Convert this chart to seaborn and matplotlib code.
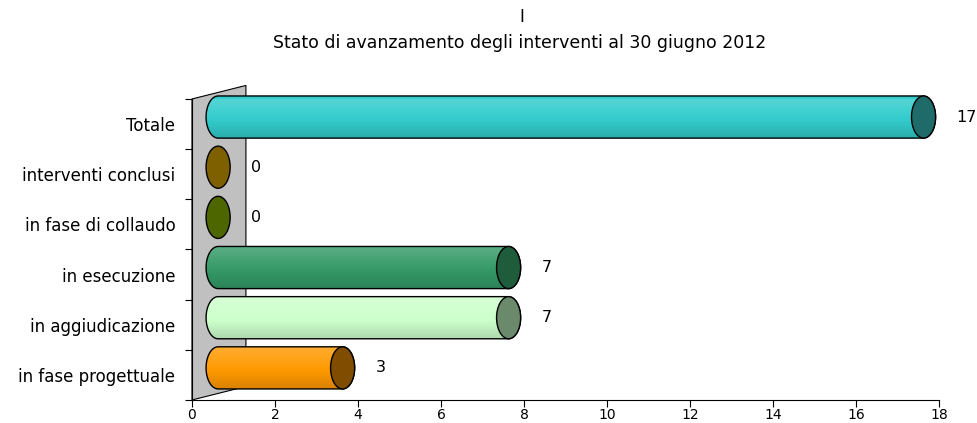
import numpy as np
import pandas as pd
import matplotlib.pyplot as plt
import seaborn as sns
from matplotlib.patches import Ellipse, Polygon
from matplotlib.colors import to_rgb

categories = ["Totale", "interventi conclusi", "in fase di collaudo",
              "in esecuzione", "in aggiudicazione", "in fase progettuale"]
values = [17, 0, 0, 7, 7, 3]
body_colors = ["#33CCCC", "#7F6000", "#4D6600", "#339966", "#CCFFCC", "#FF9900"]
cap_colors = ["#1E6B69", "#7F6000", "#4D6600", "#1E5C3C", "#6B8A6B", "#7F4C00"]
x_ticks = [0, 2, 4, 6, 8, 10, 12, 14, 16, 18]

df = pd.DataFrame({"stato": categories, "valore": values})

sns.set_theme(style="white")
plt.rcParams["font.family"] = ["DejaVu Sans"]
plt.rcParams["text.color"] = "black"
plt.rcParams["xtick.labelcolor"] = "black"
plt.rcParams["ytick.labelcolor"] = "black"

fig, ax = plt.subplots(figsize=(9.77, 4.23), dpi=100)
fig.subplots_adjust(left=0.1965, right=0.961, bottom=0.0544, top=0.766)

sns.barplot(data=df, y="stato", x="valore", orient="h", hue="stato",
            palette=body_colors, legend=False, width=0.84, saturation=1,
            linewidth=0, ax=ax, zorder=2)
bars = [p for c in ax.containers for p in c]

# back wall of the 3d chart
depth_x, depth_y = 1.3, 0.27
wall = Polygon([(0, 5.5), (depth_x, 5.5 - depth_y), (depth_x, -0.5 - depth_y), (0, -0.5)],
               closed=True, facecolor="#C0C0C0", edgecolor="black", lw=0.8,
               clip_on=False, zorder=1)
ax.add_patch(wall)

shift_x, shift_y = 0.63, -0.14
cap_w = 0.58


def shade(c, f):
    c = np.array(to_rgb(c))
    if f > 0:
        return c + (1 - c) * f
    return c * (1 + f)


for p, val, body, cap in zip(bars, values, body_colors, cap_colors):
    x0 = p.get_x() + shift_x
    x1 = x0 + p.get_width()
    yc = p.get_y() + p.get_height() / 2 + shift_y
    h = p.get_height()
    p.set_visible(False)

    if val > 0:
        t1 = np.linspace(np.pi / 2, 3 * np.pi / 2, 40)
        t2 = np.linspace(-np.pi / 2, np.pi / 2, 40)
        pts = np.vstack([
            np.c_[x0 + cap_w / 2 * np.cos(t1), yc - h / 2 * np.sin(t1)],
            np.c_[x1 + cap_w / 2 * np.cos(t2), yc - h / 2 * np.sin(t2)],
        ])
        body_poly = Polygon(pts, closed=True, facecolor=body, edgecolor="none",
                            clip_on=False, zorder=3)
        ax.add_patch(body_poly)
        grad = np.array([shade(body, f) for f in np.linspace(0.2, -0.15, 60)])[:, None, :]
        im = ax.imshow(grad, extent=(x0 - cap_w / 2, x1 + cap_w / 2, yc + h / 2, yc - h / 2),
                       aspect="auto", zorder=3.5, interpolation="bilinear")
        im.set_clip_path(body_poly)
        outline = Polygon(pts, closed=True, fill=False, edgecolor="black",
                          lw=1, clip_on=False, zorder=4)
        ax.add_patch(outline)

    ax.add_patch(Ellipse((x1, yc), cap_w, h, facecolor=cap, edgecolor="black",
                         lw=1, clip_on=False, zorder=5))
    ax.annotate(f"{val}", xy=(x1 + cap_w / 2, yc), xytext=(15, 0),
                textcoords="offset points", ha="left", va="center", fontsize=11.5)

ax.set_xlim(0, 18)
ax.set_ylim(5.5, -0.5)
ax.set_xticks(x_ticks)
ax.set_xticklabels([str(t) for t in x_ticks])
ax.set_yticks(range(len(categories)))
ax.set_yticklabels(categories)
ax.set_yticks(np.arange(-0.5, 6, 1), minor=True)
ax.set_xlabel("")
ax.set_ylabel("")

for s in ["top", "right"]:
    ax.spines[s].set_visible(False)
for s in ["left", "bottom"]:
    ax.spines[s].set_color("black")
    ax.spines[s].set_linewidth(0.8)
    ax.spines[s].set_zorder(6)

ax.tick_params(axis="x", which="major", bottom=True, length=5, width=0.8,
               color="black", labelsize=10, pad=1, direction="out")
ax.tick_params(axis="y", which="major", left=False, length=0, labelsize=12, pad=12)
ax.tick_params(axis="y", which="minor", left=True, length=5, width=0.8,
               color="black", direction="out")
ax.grid(False)

fig.text(522 / 977, 1 - 17 / 423, "I", ha="center", va="center", fontsize=12)
fig.text(520 / 977, 1 - 43 / 423, "Stato di avanzamento degli interventi al 30 giugno 2012",
         ha="center", va="center", fontsize=12.5)

fig.savefig("out.png", dpi=100)
